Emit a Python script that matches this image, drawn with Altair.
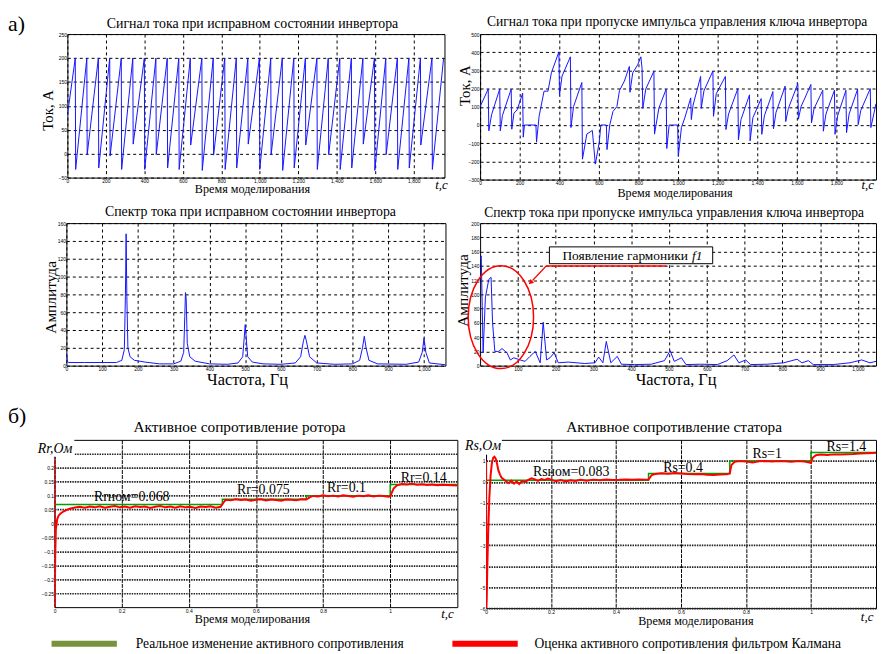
import altair as alt
import pandas as pd

SERIF = "Liberation Serif"
SANS = "Liberation Sans"
BLUE = "#1414ff"
RED = "#ff0000"
GREEN = "#00a000"

# ---------------- data ----------------
# current signal, healthy inverter
tl_t = [0, 41, 43, 101, 103, 161, 163, 220, 222, 280, 282, 340, 342, 400, 402, 460, 462,
        519, 521, 579, 581, 639, 641, 699, 701, 758, 760, 818, 820, 878, 880, 938, 940,
        998, 1000, 1057, 1059, 1117, 1119, 1177, 1179, 1237, 1239, 1297, 1299, 1356, 1358,
        1416, 1418, 1476, 1478, 1536, 1538, 1596, 1598, 1655, 1657, 1715, 1717, 1775, 1777,
        1835, 1837, 1895, 1897, 1955]
tl_v = [80, 200, -33, 200, -2, 200, -30, 200, -5, 200, -33, 200, 20, 200, -33, 200, -2,
        200, -30, 200, -33, 200, 18, 200, -35, 200, -3, 200, -33, 200, -30, 200, 20,
        200, -33, 200, -2, 200, -35, 200, -30, 200, 18, 200, -33, 200, -2,
        200, -33, 200, -30, 200, 20, 200, -35, 200, -2, 200, -33, 200, -30,
        200, 18, 200, -33, 198]

# current signal, missed gate pulse
tr_t = [0, 41, 44, 58, 99, 102, 113, 157, 160, 171, 187, 215, 218, 224, 282, 285, 298, 323,
        343, 360, 398, 401, 414, 456, 459, 472, 514, 517, 539, 567, 582, 602, 610, 638, 641,
        655, 671, 691, 704, 729, 754, 757, 771, 796, 812, 818, 822, 837, 878, 881, 903, 940,
        943, 955, 998, 1001, 1017, 1034, 1064, 1067, 1076, 1114, 1117, 1131, 1176, 1179,
        1193, 1239, 1242, 1255, 1302, 1305, 1318, 1361, 1364, 1378, 1420, 1423, 1436, 1479,
        1482, 1495, 1541, 1544, 1557, 1605, 1608, 1621, 1671, 1674, 1687, 1731, 1734, 1747,
        1790, 1793, 1806, 1848, 1851, 1864, 1907, 1910, 1923, 1971, 1974, 2000]
tr_v = [101, 198, -32, 57, 198, -32, 53, 198, -23, 65, 83, 175, -67, 0, 0, -94, 48, 186,
        186, 287, 402, 163, 269, 375, -14, 101, 234, -188, -50, -30, -215, -94, 0, 0, -135,
        0, 74, 101, 189, 242, 322, 180, 287, 331, 375, 313, 92, 198, 296, -50, 92, 198,
        -129, 0, 0, -173, -14, 39, 149, 30, 110, 267, 92, 189, 297, 48,
        172, 267, -25, 60, 200, -81, 30, 166, -87, 40, 145, -51, 50, 184,
        -21, 70, 214, 19, 90, 227, 32, 100, 223, 12, 90, 191, -34, 60,
        191, -51, 50, 191, -42, 60, 197, 2, 80, 200, -14, 117]

# spectrum, healthy inverter
ml_f = [0, 3, 6, 50, 100, 140, 155, 162, 165, 167, 169, 172, 178, 190, 220, 260, 300, 320,
        328, 331, 333, 335, 338, 345, 360, 400, 450, 480, 493, 497, 500, 503, 507, 520, 550,
        600, 640, 655, 663, 667, 671, 680, 700, 750, 800, 820, 828, 833, 838, 846, 870, 950,
        985, 995, 1000, 1005, 1015, 1060]
ml_a = [14, 5, 3.5, 3.5, 3.5, 3.5, 6, 18, 78, 148, 78, 20, 10, 6, 4, 2, 2, 5,
        15, 55, 82, 75, 25, 10, 5, 2, 1.5, 3, 10, 30, 46, 30, 10, 4, 2,
        1.5, 3, 10, 28, 34, 28, 10, 3, 1.5, 2, 6, 20, 33, 20, 6, 2, 1.5,
        4, 15, 31, 15, 3, 1]

# spectrum, missed gate pulse
mr_f = [0, 3, 8, 14, 23, 29, 33, 39, 49, 58, 71, 80, 89, 106, 119, 132, 146, 159, 167, 176,
        185, 196, 207, 233, 277, 304, 314, 325, 334, 346, 363, 374, 409, 453, 488, 503, 514,
        533, 545, 584, 628, 654, 672, 685, 703, 716, 760, 804, 839, 852, 869, 882, 935, 979,
        1010, 1032, 1048]
mr_a = [150, 154, 18, 96, 121, 124, 60, 20, 20, 24, 18, 8, 11, 8, 6, 13, 20, 4, 61, 8,
        11, 18, 4, 5, 3, 4, 12, 4, 34, 4, 13, 2, 1.5, 2, 7, 21, 6,
        11, 1.5, 2, 1.5, 7, 15, 4, 8, 1.5, 2, 4, 9, 4, 7, 1.5, 1.5, 4,
        8, 4, 6]

# rotor resistance
rr_real_t = [0, 0.5, 0.5, 0.75, 0.75, 1.0, 1.0, 1.2]
rr_real_v = [0.068, 0.068, 0.087, 0.087, 0.1, 0.1, 0.14, 0.14]
rr_est_t = [0, 0.0008, 0.002, 0.004, 0.008, 0.012, 0.018, 0.025, 0.035, 0.045, 0.055,
            0.065, 0.075, 0.09, 0.105, 0.12, 0.135, 0.15, 0.165, 0.18, 0.195,
            0.21, 0.225, 0.24, 0.255, 0.27, 0.285, 0.3, 0.315, 0.33, 0.345,
            0.36, 0.375, 0.39, 0.405, 0.42, 0.435, 0.45, 0.465, 0.48, 0.495,
            0.503, 0.51, 0.525, 0.54, 0.555, 0.57, 0.585, 0.6, 0.615, 0.63,
            0.645, 0.66, 0.675, 0.69, 0.705, 0.72, 0.735, 0.75, 0.76, 0.77,
            0.785, 0.8, 0.815, 0.83, 0.845, 0.86, 0.875, 0.89, 0.905, 0.92,
            0.935, 0.95, 0.965, 0.98, 0.995, 1.0, 1.01, 1.02, 1.035, 1.05,
            1.065, 1.08, 1.095, 1.11, 1.125, 1.14, 1.155, 1.17, 1.185, 1.2]
rr_est_v = [0.23, -0.30, -0.12, -0.02, 0.015, 0.028, 0.036, 0.042, 0.048, 0.053, 0.056,
            0.058, 0.06, 0.057, 0.061, 0.058, 0.062, 0.057, 0.06, 0.063, 0.058,
            0.061, 0.057, 0.062, 0.059, 0.061, 0.056, 0.06, 0.063, 0.058, 0.061,
            0.057, 0.062, 0.058, 0.06, 0.056, 0.061, 0.059, 0.062, 0.057, 0.06,
            0.075, 0.085, 0.083, 0.087, 0.084, 0.086, 0.082, 0.085, 0.087, 0.083,
            0.086, 0.084, 0.082, 0.086, 0.085, 0.083, 0.087, 0.086, 0.094, 0.099,
            0.097, 0.101, 0.098, 0.1, 0.097, 0.101, 0.099, 0.096, 0.1, 0.098,
            0.101, 0.097, 0.1, 0.099, 0.096, 0.097, 0.125, 0.137, 0.142, 0.14,
            0.143, 0.139, 0.141, 0.138, 0.14, 0.137, 0.139, 0.138, 0.137, 0.136]

# stator resistance
rs_real_t = [0, 0.5, 0.5, 0.75, 0.75, 1.0, 1.0, 1.2]
rs_real_v = [0.083, 0.083, 0.4, 0.4, 1.0, 1.0, 1.4, 1.4]
rs_est_t = [0, 0.0008, 0.002, 0.004, 0.007, 0.01, 0.014, 0.018, 0.022, 0.026, 0.03,
            0.034, 0.038, 0.043, 0.048, 0.055, 0.062, 0.07, 0.078, 0.086, 0.094,
            0.102, 0.11, 0.12, 0.13, 0.14, 0.15, 0.16, 0.17, 0.18, 0.19,
            0.2, 0.215, 0.23, 0.245, 0.26, 0.275, 0.29, 0.31, 0.33, 0.35,
            0.37, 0.39, 0.41, 0.43, 0.45, 0.47, 0.49, 0.5, 0.51, 0.52,
            0.54, 0.56, 0.58, 0.6, 0.62, 0.64, 0.66, 0.68, 0.7, 0.72,
            0.74, 0.75, 0.755, 0.765, 0.78, 0.8, 0.82, 0.84, 0.86, 0.88,
            0.9, 0.92, 0.94, 0.96, 0.98, 0.995, 1.0, 1.005, 1.015, 1.03,
            1.05, 1.07, 1.09, 1.11, 1.13, 1.15, 1.17, 1.19, 1.2]
rs_est_v = [1.0, -6.0, -5.6, -4.0, -2.2, -0.8, 0.3, 0.9, 1.15, 1.2, 1.1,
            0.85, 0.55, 0.35, 0.2, 0.12, 0.02, -0.05, 0.06, -0.08, 0.03,
            -0.1, 0.04, 0.0, 0.1, 0.17, 0.12, 0.05, 0.14, 0.09, 0.16,
            0.11, 0.03, 0.09, 0.02, 0.08, 0.05, 0.1, 0.06, 0.11, 0.08,
            0.12, 0.09, 0.1, 0.12, 0.1, 0.12, 0.11, 0.12, 0.33, 0.38,
            0.41, 0.39, 0.42, 0.4, 0.38, 0.37, 0.38, 0.34, 0.33, 0.35,
            0.36, 0.4, 0.8, 0.96, 0.99, 0.97, 0.93, 0.98, 1.0, 0.97,
            0.99, 0.98, 0.96, 0.99, 0.97, 0.92, 0.9, 1.15, 1.27, 1.3,
            1.28, 1.31, 1.3, 1.32, 1.33, 1.35, 1.36, 1.38, 1.39]

# axis ticks
tl_xt = [0, 200, 400, 600, 800, 1000, 1200, 1400, 1600, 1800]
tl_yt = [-50, 0, 50, 100, 150, 200, 250]
tr_yt = [-300, -200, -100, 0, 100, 200, 300, 400, 500]
ml_xt = [0, 100, 200, 300, 400, 500, 600, 700, 800, 900, 1000]
ml_yt = [0, 20, 40, 60, 80, 100, 120, 140, 160]
mr_xt = [100, 200, 300, 400, 500, 600, 700, 800, 900, 1000]
mr_yt = [0, 20, 40, 60, 80, 100, 120, 140, 160, 180, 200]
b_xt = [0, 0.2, 0.4, 0.6, 0.8, 1.0]
bl_yt = [-0.25, -0.2, -0.15, -0.1, -0.05, 0, 0.05, 0.1, 0.15, 0.2, 0.25]
br_yt = [-6, -5, -4, -3, -2, -1, 0, 1]

for a, b in [(tl_t, tl_v), (tr_t, tr_v), (ml_f, ml_a), (mr_f, mr_a),
             (rr_est_t, rr_est_v), (rs_est_t, rs_est_v)]:
    assert len(a) == len(b), (len(a), len(b))

one = pd.DataFrame({"k": [0]})


def txt(s, x, y, size=13, align="center", baseline="middle", angle=0, italic=False,
        color="black", font=SERIF):
    kw = dict(text=s, fontSize=size, align=align, baseline=baseline, font=font, color=color)
    if angle:
        kw["angle"] = angle
    if italic:
        kw["fontStyle"] = "italic"
    return alt.Chart(one).mark_text(**kw).encode(x=alt.value(x), y=alt.value(y))


def anchor(x, y):
    return alt.Chart(one).mark_square(size=1, color="white", opacity=1, filled=True,
                                      strokeWidth=0).encode(x=alt.value(x), y=alt.value(y))


def rect(x1, x2, y1, y2, fill, stroke=None, sw=1):
    kw = dict(fill=fill)
    if stroke:
        kw.update(stroke=stroke, strokeWidth=sw)
    return alt.Chart(one).mark_rect(**kw).encode(
        x=alt.value(x1), x2=alt.value(x2), y=alt.value(y1), y2=alt.value(y2))


def axis(values, dash, gcolor, gwidth, expr=None, fmt=None):
    kw = dict(values=values, grid=True, gridDash=dash, gridColor=gcolor, gridWidth=gwidth,
              gridOpacity=1, domain=False, ticks=False, labelFontSize=5, labelFont=SANS,
              labelColor="black", labelPadding=1, title=None, labelOverlap=False,
              labelFlush=False)
    if expr:
        kw["labelExpr"] = expr
    if fmt:
        kw["format"] = fmt
    return alt.Axis(**kw)


def line(xs, ys, xdom, ydom, xax, yax, color, width):
    df = pd.DataFrame({"x": xs, "y": ys, "i": list(range(len(xs)))})
    return alt.Chart(df).mark_line(color=color, strokeWidth=width, clip=True).encode(
        x=alt.X("x:Q", scale=alt.Scale(domain=xdom, nice=False, zero=False), axis=xax),
        y=alt.Y("y:Q", scale=alt.Scale(domain=ydom, nice=False, zero=False), axis=yax),
        order="i:Q")


FRAME = alt.ViewBackground(stroke="black", strokeWidth=1)
NOFRAME = alt.ViewBackground(stroke="white", strokeOpacity=0, fillOpacity=0)
TOPDASH = [3, 3]
GW = 1.0

# ---------------- row 1 ----------------
tl_xa = axis(tl_xt, TOPDASH, "black", GW)
tl_ya = axis(tl_yt, TOPDASH, "black", GW)
TL = alt.layer(
    line(tl_t, tl_v, [0, 1960], [-50, 250], tl_xa, tl_ya, BLUE, 1),
    txt("Сигнал тока при исправном состоянии инвертора", 187, -10, 14),
    txt("Ток, А", -20, 77, 15, angle=270),
    txt("Время моделирования", 187, 157, 12.3),
    txt("t,c", 378, 153, 13, italic=True),
).properties(width=381, height=145, view=FRAME)

tr_xa = axis(tl_xt, TOPDASH, "black", GW)
tr_ya = axis(tr_yt, TOPDASH, "black", GW)
TR = alt.layer(
    line(tr_t, tr_v, [0, 2000], [-300, 500], tr_xa, tr_ya, BLUE, 1),
    txt("Сигнал тока при пропуске импульса управления ключа инвертора", 199, -12, 13.7),
    txt("Ток, А", -15, 52, 15, angle=270),
    txt("Время моделирования", 197, 161, 12.3),
    txt("t,c", 398, 153, 13, align="right", italic=True),
).properties(width=400, height=147, view=FRAME)

SP1 = alt.layer(
    anchor(1, -22.5), anchor(1, 170.5),
    txt("а)", 0, -10.5, 22, align="left"),
).properties(width=24, height=1, view=NOFRAME)

# ---------------- row 2 ----------------
ml_xa = axis(ml_xt, TOPDASH, "black", GW)
ml_ya = axis(ml_yt, TOPDASH, "black", GW)
ML = alt.layer(
    line(ml_f, ml_a, [0, 1060], [0, 160], ml_xa, ml_ya, BLUE, 1),
    txt("Спектр тока при исправном состоянии инвертора", 186, -11, 14),
    txt("Амплитуда", -15, 75, 15.5, angle=270),
    txt("Частота, Гц", 183, 159, 16.5),
).properties(width=383, height=144, view=FRAME)

ELLIPSE = "M -0.635 0 A 0.635 1 0 1 0 0.635 0 A 0.635 1 0 1 0 -0.635 0 Z"
mr_xa = axis(mr_xt, TOPDASH, "black", GW)
mr_ya = axis(mr_yt, TOPDASH, "black", GW)
MR = alt.layer(
    line(mr_f, mr_a, [0, 1048], [0, 200], mr_xa, mr_ya, BLUE, 1),
    txt("Спектр тока при пропуске импульса управления ключа инвертора", 196, -10, 13.7),
    txt("Амплитуда", -17, 68, 15.5, angle=270),
    txt("Частота, Гц", 198, 159, 16.5),
    alt.Chart(one).mark_point(shape=ELLIPSE, size=104 * 104, filled=False, color=RED,
                              strokeWidth=1.5, opacity=1).encode(
        x=alt.value(21), y=alt.value(95)),
    alt.Chart(one).mark_rule(color=RED, strokeWidth=1.5).encode(
        x=alt.value(66.7), x2=alt.value(188.3), y=alt.value(43.3), y2=alt.value(43.3)),
    alt.Chart(one).mark_rule(color=RED, strokeWidth=1.2).encode(
        x=alt.value(66.7), x2=alt.value(53), y=alt.value(43.3), y2=alt.value(58)),
    alt.Chart(one).mark_point(shape="triangle", filled=True, size=30, angle=225,
                              color=RED, opacity=1).encode(x=alt.value(51.5), y=alt.value(59.5)),
    rect(70, 235, 24, 41, "white", "black", 1),
    txt("Появление гармоники", 210, 33, 13.5, align="right"),
    txt("f1", 214, 33, 13.5, align="left", italic=True),
).properties(width=400, height=144, view=FRAME)

SP2 = alt.layer(anchor(1, -19.5), anchor(1, 169.5)).properties(
    width=24, height=1, view=NOFRAME)

# ---------------- row 3 ----------------
bl_xa = axis(b_xt, [4, 1], "#000000", 1.0, fmt="~g")
bl_ya = axis(bl_yt, [1.5, 1], "#222222", 1.7, fmt="~g",
             expr="datum.value > 0.24 ? '' : datum.label")
BL = alt.layer(
    line(rr_real_t, rr_real_v, [0, 1.2], [-0.3, 0.3], bl_xa, bl_ya, GREEN, 1.5),
    line(rr_est_t, rr_est_v, [0, 1.2], [-0.3, 0.3], bl_xa, bl_ya, RED, 2),
    txt("Активное сопротивление ротора", 187, -13, 15.5),
    rect(-19, 20, -1, 17, "white"),
    txt("Rr,Ом", 0.5, 9, 14, italic=True),
    txt("Rrном=0.068", 78, 58, 14),
    txt("Rr=0.075", 211, 51, 14),
    txt("Rr=0.1", 295, 49, 14),
    txt("Rr=0.14", 373, 39, 14),
    txt("Время моделирования", 200, 181, 12.3),
    txt("t,c", 397, 176, 13, italic=True),
    rect(-3, 63, 203, 209, "#77933c"),
    txt("Реальное изменение активного сопротивления", 82, 206, 13.7, align="left"),
).properties(width=407, height=169, view=FRAME)

br_xa = axis(b_xt, [4, 1], "#000000", 1.0, fmt="~g")
br_ya = axis(br_yt, [1.5, 1], "#222222", 1.7, fmt="~g")
BR = alt.layer(
    line(rs_real_t, rs_real_v, [0, 1.2], [-6, 2], br_xa, br_ya, GREEN, 1.5),
    line(rs_est_t, rs_est_v, [0, 1.2], [-6, 2], br_xa, br_ya, RED, 2),
    txt("Активное сопротивление статора", 190, -13, 15.4),
    rect(-22, 16, -2, 15, "white"),
    txt("Rs,Ом", -3, 6, 14, italic=True),
    txt("Rsном=0.083", 86, 33, 14),
    txt("Rs=0.4", 199, 28, 14),
    txt("Rs=1", 284, 14, 14),
    txt("Rs=1.4", 364, 7, 14),
    txt("Время моделирования", 212, 183, 12.3),
    txt("t,c", 385, 179, 13, italic=True),
    rect(-34, 32, 203, 209, RED),
    txt("Оценка активного сопротивления фильтром Калмана", 49, 206, 13.7, align="left"),
).properties(width=394, height=170, view=FRAME)

SP3 = alt.layer(
    anchor(1, -48.5),
    txt("б)", 0, -24, 22, align="left"),
).properties(width=18, height=1, view=NOFRAME)

row1 = alt.hconcat(SP1, TL, TR, spacing=36, bounds="flush")
row2 = alt.hconcat(SP2, ML, MR, spacing=35, bounds="flush")
row3 = alt.hconcat(SP3, BL, BR, spacing=29, bounds="flush")

chart = alt.vconcat(row1, row2, row3, spacing=0, bounds="full").properties(
    padding=0
).configure_view(stroke=None).configure(background="white")

chart.save("out.html", embed_options={"renderer": "svg", "actions": False})
